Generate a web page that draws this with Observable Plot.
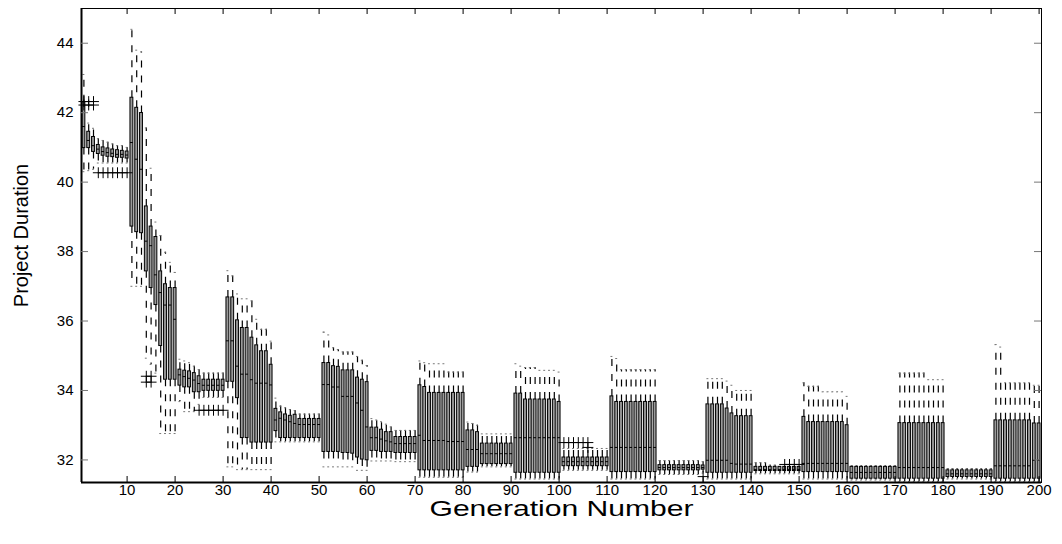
<!DOCTYPE html>
<html><head><meta charset="utf-8">
<script src="https://cdn.jsdelivr.net/npm/d3@7"></script>
<script src="https://cdn.jsdelivr.net/npm/@observablehq/plot@0.6"></script>
<style>body{margin:0;background:#fff} #chart{width:1062px;height:544px}</style>
</head><body><div id="chart"></div>
<script>
// Generation numbers (categories)
const generations = d3.range(1, 201);
const xTicks = [10,20,30,40,50,60,70,80,90,100,110,120,130,140,150,160,170,180,190,200];
const yTicks = [32,34,36,38,40,42,44];

// box top (upper quartile)
const q3 = [
 42.3,41.45,41.3,41.07,41.0,40.97,40.94,40.92,40.9,40.88,
 42.43,42.14,41.99,39.3,38.72,38.42,37.43,37.06,36.95,36.95,
 34.6,34.57,34.55,34.5,34.41,34.31,34.31,34.31,34.31,34.31,
 36.68,36.68,36.02,35.8,35.8,35.52,35.3,35.13,35.13,34.74,
 33.47,33.37,33.31,33.27,33.3,33.18,33.18,33.18,33.18,33.18,
 34.79,34.79,34.7,34.68,34.58,34.58,34.58,34.37,34.31,34.24,
 32.93,32.93,32.87,32.8,32.8,32.66,32.66,32.66,32.66,32.66,
 34.15,34.1,33.93,33.93,33.93,33.93,33.93,33.93,33.93,33.93,
 32.85,32.85,32.8,32.47,32.47,32.47,32.47,32.47,32.47,32.47,
 33.91,33.91,33.74,33.74,33.74,33.74,33.74,33.74,33.74,33.67,
 32.07,32.07,32.07,32.07,32.07,32.07,32.07,32.07,32.07,32.07,
 33.83,33.67,33.67,33.67,33.67,33.67,33.67,33.67,33.67,33.67,
 31.85,31.85,31.85,31.85,31.85,31.85,31.85,31.85,31.85,31.84,
 33.6,33.6,33.6,33.6,33.48,33.34,33.26,33.26,33.26,33.26,
 31.8,31.8,31.8,31.8,31.8,31.8,31.8,31.8,31.8,31.8,
 33.24,33.09,33.09,33.09,33.09,33.09,33.09,33.09,33.09,33.0,
 31.8,31.8,31.8,31.8,31.8,31.8,31.8,31.8,31.8,31.8,
 33.06,33.06,33.06,33.06,33.06,33.06,33.06,33.06,33.06,33.06,
 31.7,31.7,31.7,31.7,31.7,31.7,31.7,31.7,31.7,31.7,
 33.14,33.14,33.14,33.14,33.14,33.14,33.14,33.14,33.05,33.05
];
// median
const med = [
 41.6,41.2,41.05,40.95,40.88,40.85,40.83,40.8,40.8,40.78,
 41.14,40.66,40.37,38.3,38.17,37.33,36.82,36.46,36.46,36.05,
 34.45,34.4,34.35,34.3,34.2,34.15,34.15,34.15,34.15,34.15,
 35.43,35.43,34.7,34.47,34.47,34.31,34.21,34.21,34.21,34.16,
 33.15,33.2,33.15,33.1,33.05,33.02,33.02,33.02,33.02,33.02,
 34.17,34.17,34.1,34.1,33.83,33.83,33.83,33.64,33.43,32.95,
 32.64,32.64,32.6,32.55,32.52,32.47,32.47,32.47,32.47,32.47,
 32.71,32.56,32.56,32.56,32.56,32.56,32.53,32.53,32.53,32.53,
 32.3,32.3,32.3,32.18,32.18,32.18,32.18,32.18,32.18,32.18,
 32.64,32.64,32.64,32.64,32.64,32.64,32.64,32.64,32.64,32.64,
 31.95,31.95,31.95,31.95,31.95,31.95,31.95,31.95,31.95,31.95,
 32.36,32.36,32.36,32.36,32.36,32.36,32.36,32.36,32.36,32.36,
 31.78,31.78,31.78,31.78,31.78,31.78,31.78,31.78,31.78,31.78,
 31.99,31.99,31.99,31.99,31.99,31.9,31.88,31.88,31.88,31.88,
 31.72,31.72,31.72,31.72,31.72,31.72,31.72,31.72,31.72,31.72,
 31.9,31.9,31.9,31.9,31.9,31.9,31.9,31.9,31.9,31.9,
 31.64,31.64,31.64,31.64,31.64,31.64,31.64,31.64,31.64,31.64,
 31.78,31.78,31.78,31.78,31.78,31.78,31.78,31.78,31.78,31.78,
 31.6,31.6,31.6,31.6,31.6,31.6,31.6,31.6,31.6,31.6,
 31.83,31.83,31.83,31.83,31.83,31.83,31.83,31.83,31.99,31.99
];
// box bottom (lower quartile)
const q1 = [
 40.98,40.98,40.87,40.81,40.76,40.73,40.72,40.7,40.7,40.68,
 38.72,38.56,38.53,37.43,36.95,36.46,35.28,34.31,34.31,34.31,
 34.14,34.09,34.09,33.95,33.95,33.99,33.99,33.99,33.99,33.99,
 34.25,34.25,33.78,32.63,32.63,32.5,32.5,32.5,32.5,32.5,
 32.83,32.63,32.63,32.63,32.63,32.63,32.63,32.63,32.63,32.63,
 32.23,32.23,32.23,32.23,32.2,32.2,32.18,32.07,32.01,31.99,
 32.26,32.26,32.23,32.23,32.23,32.2,32.2,32.2,32.2,32.2,
 31.7,31.7,31.7,31.7,31.7,31.7,31.7,31.7,31.7,31.7,
 31.8,31.8,31.8,31.88,31.88,31.88,31.88,31.88,31.88,31.88,
 31.63,31.63,31.63,31.63,31.63,31.63,31.63,31.63,31.63,31.63,
 31.82,31.82,31.82,31.82,31.82,31.82,31.82,31.82,31.82,31.82,
 31.65,31.65,31.65,31.65,31.65,31.65,31.65,31.65,31.65,31.65,
 31.7,31.7,31.7,31.7,31.7,31.7,31.7,31.7,31.7,31.72,
 31.63,31.63,31.63,31.63,31.63,31.63,31.63,31.63,31.63,31.63,
 31.68,31.68,31.68,31.68,31.68,31.68,31.68,31.68,31.68,31.68,
 31.65,31.65,31.65,31.65,31.65,31.65,31.65,31.65,31.65,31.65,
 31.46,31.46,31.46,31.46,31.46,31.46,31.46,31.46,31.46,31.46,
 31.46,31.46,31.46,31.46,31.46,31.46,31.46,31.46,31.46,31.46,
 31.51,31.51,31.51,31.51,31.51,31.51,31.51,31.51,31.51,31.51,
 31.46,31.46,31.46,31.46,31.46,31.46,31.46,31.46,31.46,31.46
];
// upper whisker end
const whiskerHigh = [
 43.1,41.7,41.55,41.25,41.2,41.15,41.1,41.05,41.05,41.0,
 44.4,43.8,43.75,41.56,40.4,38.85,38.46,37.98,37.69,37.4,
 34.9,34.85,34.8,34.7,34.6,34.5,34.5,34.5,34.5,34.5,
 37.45,37.3,36.78,36.64,36.64,36.58,36.05,35.76,35.76,35.42,
 33.78,33.55,33.5,33.45,33.42,33.32,33.32,33.32,33.32,33.32,
 35.68,35.6,35.23,35.18,35.11,35.11,35.11,34.98,34.87,34.72,
 33.19,33.15,33.1,33.03,32.95,32.85,32.85,32.85,32.85,32.85,
 34.85,34.8,34.77,34.77,34.77,34.77,34.53,34.53,34.53,34.53,
 33.09,33.05,33.0,32.75,32.75,32.75,32.75,32.75,32.75,32.75,
 34.77,34.7,34.66,34.66,34.66,34.58,34.58,34.58,34.58,34.53,
 32.33,32.33,32.33,32.33,32.33,32.33,32.33,32.33,32.33,32.33,
 34.98,34.92,34.6,34.6,34.6,34.6,34.6,34.6,34.6,34.6,
 31.98,31.98,31.98,31.98,31.98,31.98,31.98,31.98,31.98,31.95,
 34.34,34.34,34.34,34.34,34.27,34.15,34.0,34.0,34.0,34.0,
 31.92,31.92,31.92,31.85,31.85,31.8,31.8,31.8,31.8,31.8,
 34.22,34.12,34.12,34.12,33.96,33.96,33.96,33.96,33.96,33.83,
 31.83,31.83,31.83,31.83,31.83,31.83,31.83,31.83,31.83,31.83,
 34.5,34.5,34.5,34.5,34.5,34.5,34.31,34.31,34.31,34.31,
 31.75,31.75,31.75,31.75,31.75,31.75,31.75,31.75,31.75,31.75,
 35.32,35.25,34.22,34.22,34.22,34.22,34.22,34.22,34.15,34.15
];
// lower whisker end
const whiskerLow = [
 40.3,40.33,40.37,40.55,40.55,40.55,40.55,40.55,40.55,40.55,
 37.0,37.0,37.0,34.93,34.75,34.5,32.76,32.76,32.76,32.76,
 33.68,33.39,33.39,33.39,33.6,33.8,33.8,33.8,33.8,33.8,
 31.8,31.8,31.72,31.72,31.72,31.72,31.72,31.72,31.72,31.72,
 32.52,32.52,32.52,32.52,32.52,32.52,32.52,32.52,32.52,32.52,
 31.8,31.8,31.8,31.8,31.8,31.8,31.8,31.7,31.7,31.7,
 31.97,31.97,31.97,31.97,31.97,31.95,31.95,31.95,31.95,31.95,
 31.5,31.5,31.5,31.5,31.5,31.5,31.5,31.5,31.5,31.5,
 31.65,31.65,31.65,31.8,31.8,31.8,31.8,31.8,31.8,31.8,
 31.45,31.45,31.45,31.45,31.45,31.45,31.45,31.45,31.45,31.45,
 31.7,31.7,31.7,31.7,31.7,31.7,31.7,31.7,31.7,31.7,
 31.45,31.45,31.45,31.45,31.45,31.45,31.45,31.45,31.45,31.45,
 31.58,31.58,31.58,31.58,31.58,31.58,31.58,31.58,31.58,31.62,
 31.45,31.45,31.45,31.45,31.45,31.45,31.45,31.45,31.45,31.45,
 31.6,31.6,31.6,31.6,31.6,31.6,31.6,31.6,31.6,31.6,
 31.45,31.45,31.45,31.45,31.45,31.45,31.45,31.45,31.45,31.45,
 31.42,31.42,31.42,31.42,31.42,31.42,31.42,31.42,31.42,31.42,
 31.38,31.38,31.38,31.38,31.38,31.38,31.38,31.38,31.38,31.38,
 31.45,31.45,31.45,31.45,31.45,31.45,31.45,31.45,31.45,31.45,
 31.38,31.38,31.38,31.38,31.38,31.38,31.38,31.38,31.38,31.38
];
// outliers ("+")
const outlierGen = [1,2,3,1,2,3, 4,5,6,7,8,9,10, 14,15,14,15, 25,26,27,28,29,30, 101,102,103,104,105,106,106, 130, 147,148,149,150];
const outlierVal = [42.32,42.32,42.32,42.22,42.22,42.22, 40.27,40.27,40.27,40.27,40.27,40.27,40.27, 34.41,34.41,34.24,34.24, 33.43,33.43,33.43,33.43,33.43,33.43, 32.5,32.5,32.5,32.5,32.5,32.5,32.36, 31.52, 31.87,31.87,31.87,31.87];

const yMin = 31.35, yMax = 45;
const W = 1062, H = 544, mL = 81, mR = 21, mT = 8, mB = 62;
const kY = (H - mT - mB) / (yMax - yMin);
const kX = (W - mL - mR) / 200;
const half = 0.3, capHalf = 0.2;

const rows = generations.map((g, i) => ({g, q1: q1[i], med: med[i], q3: q3[i], lo: whiskerLow[i], hi: whiskerHigh[i]}));
const outliers = outlierGen.map((g, i) => ({g, v: outlierVal[i]}));

const chart = Plot.plot({
  width: W, height: H,
  marginLeft: mL, marginRight: mR, marginTop: mT, marginBottom: mB,
  x: {domain: [0.5, 200.5]},
  y: {domain: [yMin, yMax]},
  style: {fontFamily: "'Liberation Sans', Arial, sans-serif", background: "white", color: "black", fontSize: "15px"},
  marks: [
    Plot.ruleX(rows, {x: "g", y1: "q3", y2: "hi", stroke: "black", strokeWidth: 1.2, strokeDasharray: "7,8"}),
    Plot.ruleX(rows, {x: "g", y1: "q1", y2: "lo", stroke: "black", strokeWidth: 1.2, strokeDasharray: "7,8"}),
    Plot.ruleY(rows, {y: "hi", x1: d => d.g - capHalf, x2: d => d.g + capHalf, stroke: "#777", strokeWidth: 1}),
    Plot.ruleY(rows, {y: "lo", x1: d => d.g - capHalf, x2: d => d.g + capHalf, stroke: "#777", strokeWidth: 1}),
    Plot.rect(rows, {x1: d => d.g - half, x2: d => d.g + half, y1: "q1", y2: "q3", fill: "#9a9a9a", stroke: "black", strokeWidth: 1}),
    Plot.ruleY(rows, {y: "med", x1: d => d.g - half, x2: d => d.g + half, stroke: "black", strokeWidth: 1}),
    Plot.dot(outliers, {x: "g", y: "v", symbol: "plus", r: 3.6, stroke: "black", strokeWidth: 1}),
    // frame
    Plot.frame({stroke: "black", strokeWidth: 1}),
    Plot.ruleX([0.5], {stroke: "black", strokeWidth: 2}),
    Plot.ruleY([yMin], {stroke: "black", strokeWidth: 2}),
    // inward ticks
    Plot.ruleX(xTicks, {x: d => d, y1: yMin, y2: yMin + 6 / kY, stroke: "black"}),
    Plot.ruleX(xTicks, {x: d => d, y1: yMax, y2: yMax - 6 / kY, stroke: "black"}),
    Plot.ruleY(yTicks, {y: d => d, x1: 0.5, x2: 0.5 + 7 / kX, stroke: "#777"}),
    Plot.ruleY(yTicks, {y: d => d, x1: 200.5, x2: 200.5 - 7 / kX, stroke: "#777"}),
    Plot.axisX(xTicks, {tickSize: 0, tickPadding: 2, fontSize: 15, label: null}),
    Plot.axisY(yTicks, {tickSize: 0, tickPadding: 8, fontSize: 15, label: null}),
    Plot.text(["Generation Number"], {frameAnchor: "bottom", textAnchor: "middle", lineAnchor: "top", dy: 18, fontSize: 22}),
    Plot.text(["Project Duration"], {frameAnchor: "left", textAnchor: "middle", lineAnchor: "middle", rotate: -90, dx: -60, dy: -10, fontSize: 20})
  ]
});

document.getElementById("chart").appendChild(chart);
chart.querySelectorAll("text").forEach(t => {
  if (t.textContent === "Generation Number") {
    t.setAttribute("textLength", "264");
    t.setAttribute("lengthAdjust", "spacingAndGlyphs");
  }
});
</script>
</body></html>
